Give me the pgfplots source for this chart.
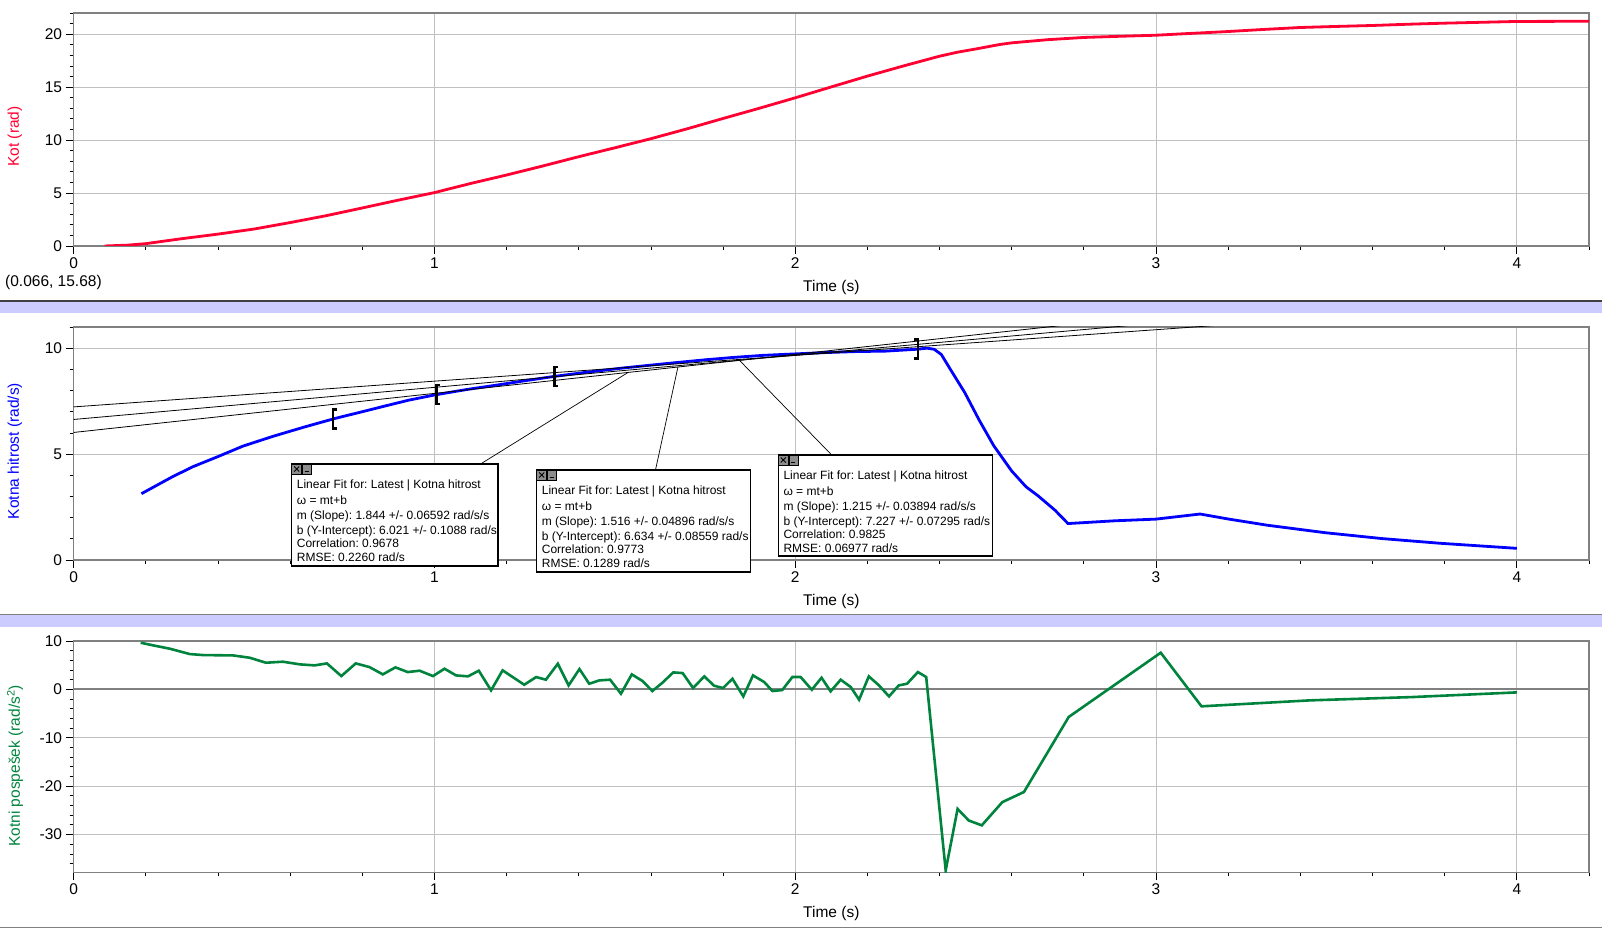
\documentclass[border=0pt]{standalone}
\usepackage{pgfplots}
\pgfplotsset{compat=1.18}
\usepackage{fontspec}
\setmainfont{Liberation Sans}
\frenchspacing
\definecolor{kred}{RGB}{255,0,51}
\definecolor{kblue}{RGB}{0,0,255}
\definecolor{kgreen}{RGB}{0,132,61}
\definecolor{axgray}{RGB}{128,128,128}
\definecolor{gridgray}{RGB}{192,192,192}
\definecolor{sepblue}{RGB}{204,204,255}
\definecolor{icongray}{RGB}{140,140,140}
\newcommand\tickfont{\fontsize{15.5}{17}\selectfont}
\newcommand\labfont{\fontsize{15.5}{17}\selectfont}
\newcommand\fitfont{\fontsize{12}{14}\selectfont}

\pgfdeclareplotmark{lbr}{%
 \pgfpathmoveto{\pgfqpoint{3.5pt}{9.5pt}}%
 \pgfpathlineto{\pgfqpoint{0pt}{9.5pt}}%
 \pgfpathlineto{\pgfqpoint{0pt}{-9.5pt}}%
 \pgfpathlineto{\pgfqpoint{3.5pt}{-9.5pt}}%
 \pgfusepathqstroke}
\pgfdeclareplotmark{rbr}{%
 \pgfpathmoveto{\pgfqpoint{-3.5pt}{9.5pt}}%
 \pgfpathlineto{\pgfqpoint{0pt}{9.5pt}}%
 \pgfpathlineto{\pgfqpoint{0pt}{-9.5pt}}%
 \pgfpathlineto{\pgfqpoint{-3.5pt}{-9.5pt}}%
 \pgfusepathqstroke}

\pgfplotsset{
 panel/.style={
  scale only axis, width=1515.4pt, anchor=south west,
  xmin=0, xmax=4.2,
  axis line style={draw=axgray, line width=1.3pt},
  tick pos=left, tick align=outside,
  major tick length=8pt, minor tick length=4pt,
  every tick/.style={black, line width=0.8pt},
  xtick={0,1,2,3,4}, xticklabels={0,1,2,3,4},
  minor xtick={0,0.2,...,4.21},
  grid=major, major grid style={gridgray, line width=1pt},
  ticklabel style={font=\tickfont},
  xlabel={Time (s)},
  xlabel style={font=\labfont, at={(axis description cs:0.5,0)}, anchor=center, yshift=-41pt},
  ylabel style={font=\labfont, anchor=center},
 }
}

\newcommand\fitbox[8]{%
 \filldraw[fill=white, draw=black, line width=1.5pt] (#1,#2) rectangle ++(#3,#4);
 \filldraw[fill=icongray, draw=black, line width=0.6pt] (#1,#2) rectangle ++(10,10);
 \draw[black, line width=0.9pt] ({#1+2.5},{#2+2.5}) -- ++(5,5) ({#1+7.5},{#2+2.5}) -- ++(-5,5);
 \filldraw[fill=icongray, draw=black, line width=0.6pt] ({#1+10.5},#2) rectangle ++(9.5,10);
 \draw[black, line width=1pt] ({#1+13},{#2+8}) -- ++(4,0);
 \node[anchor=base west, inner sep=0, font=\fitfont] at ({#1+5},{#2+24.8}) {Linear Fit for: Latest | Kotna hitrost};
 \node[anchor=base west, inner sep=0, font=\fitfont] at ({#1+5},{#2+40.8}) {ω = mt+b};
 \node[anchor=base west, inner sep=0, font=\fitfont] at ({#1+5},{#2+56}) {m (Slope): #5};
 \node[anchor=base west, inner sep=0, font=\fitfont] at ({#1+5},{#2+70.1}) {b (Y-Intercept): #6};
 \node[anchor=base west, inner sep=0, font=\fitfont] at ({#1+5},{#2+83.3}) {Correlation: #7};
 \node[anchor=base west, inner sep=0, font=\fitfont] at ({#1+5},{#2+97.3}) {RMSE: #8};
}

\begin{document}
\begin{tikzpicture}
\useasboundingbox (0,0) rectangle (1602pt,928pt);

\begin{scope}[shift={(0,928pt)}, x=1pt, y=-1pt]
 \fill[sepblue] (0,301.9) rectangle (1602,313.3);
 \fill[black!75] (0,299.7) rectangle (1602,301.9);
 \fill[sepblue] (0,615.3) rectangle (1602,626.7);
 \fill[axgray] (0,613.7) rectangle (1602,615.3);
 \fill[axgray] (0,926.6) rectangle (1602,928);
 \node[anchor=west, font=\labfont, inner sep=0] at (5,282) {(0.066, 15.68)};
\end{scope}

% ---------------- top panel: Kot ----------------
\begin{axis}[panel, at={(73.6pt,682pt)}, height=233pt,
  ymin=0, ymax=22, ytick={0,5,10,15,20}, yticklabels={0,5,10,15,20},
  minor ytick={0,1,...,22},
  ylabel={Kot (rad)}, ylabel style={text=kred, at={(axis description cs:-0.0387,0.47)}}]
\addplot[kred, line width=2.8pt] coordinates {
(0.086,0) (0.15,0.08) (0.2,0.22) (0.3,0.69) (0.4,1.12) (0.5,1.6) (0.6,2.21)
(0.7,2.86) (0.8,3.59) (0.9,4.33) (1.0,5.04) (1.1,5.9) (1.2,6.70) (1.3,7.55)
(1.4,8.43) (1.5,9.27) (1.6,10.13) (1.7,11.06) (1.8,12.04) (1.9,13.0) (2.0,13.99)
(2.1,15.02) (2.2,16.04) (2.3,17.0) (2.4,17.92) (2.45,18.3) (2.5,18.6) (2.566,19.02) (2.6,19.18)
(2.7,19.48) (2.8,19.69) (2.9,19.8) (3.0,19.9) (3.1,20.08) (3.2,20.25) (3.3,20.45)
(3.4,20.63) (3.5,20.73) (3.6,20.82) (3.7,20.94) (3.8,21.04) (3.9,21.12) (4.0,21.2) (4.2,21.22)
};
\end{axis}

% ---------------- middle panel: Kotna hitrost ----------------
\begin{axis}[panel, at={(73.6pt,368pt)}, height=233pt,
  ymin=0, ymax=11, ytick={0,5,10}, yticklabels={0,5,10},
  minor ytick={0,1,...,11},
  ylabel={Kotna hitrost (rad/s)}, ylabel style={text=kblue, at={(axis description cs:-0.0387,0.468)}}]
\addplot[kblue, line width=2.8pt] coordinates {
(0.188,3.13) (0.273,3.92) (0.33,4.4) (0.397,4.86) (0.47,5.38) (0.553,5.84) (0.64,6.28)
(0.724,6.68) (0.8,7.0) (0.863,7.27) (0.93,7.55) (1.0,7.79) (1.09,8.05) (1.174,8.26)
(1.25,8.46) (1.329,8.66) (1.42,8.86) (1.515,9.05) (1.6,9.2) (1.671,9.32) (1.75,9.45)
(1.826,9.56) (1.91,9.66) (2.0,9.73) (2.08,9.79) (2.168,9.84) (2.25,9.86) (2.338,9.95)
(2.365,10.0) (2.385,9.95) (2.405,9.7) (2.43,9.0) (2.47,7.9) (2.51,6.6) (2.55,5.4)
(2.6,4.2) (2.64,3.45) (2.673,3.03) (2.72,2.35) (2.756,1.72) (2.885,1.85) (3.0,1.93)
(3.122,2.17) (3.202,1.93) (3.309,1.64) (3.468,1.29) (3.627,1.01) (3.787,0.79) (4.0,0.55)
};
\addplot[black, line width=0.8pt] coordinates {(0,6.021) (3.0,11.553)};
\addplot[black, line width=0.8pt] coordinates {(0,6.634) (3.0,11.182)};
\addplot[black, line width=0.8pt] coordinates {(0,7.227) (3.2,11.115)};
\addplot[only marks, mark=lbr, mark options={black, line width=2.2pt}] coordinates {(0.72,6.66) (1.006,7.8) (1.333,8.68)};
\addplot[only marks, mark=rbr, mark options={black, line width=2.8pt}] coordinates {(2.34,9.95)};
\end{axis}

% ---------------- bottom panel: Kotni pospesek ----------------
\begin{axis}[panel, at={(73.6pt,55.7pt)}, height=231.3pt,
  ymin=-37.8, ymax=10, ytick={-30,-20,-10,0,10}, yticklabels={-30,-20,-10,0,10},
  minor ytick={-36,-34,...,10},
  extra y ticks={0}, extra y tick labels={},
  extra y tick style={grid=major, major grid style={axgray, line width=2.2pt}, major tick length=0pt},
  ylabel={Kotni pospešek (rad/s\textsuperscript{2})}, ylabel style={text=kgreen, at={(axis description cs:-0.0387,0.46)}}]
\addplot[kgreen, line width=2.6pt] coordinates {
(0.186,9.64) (0.221,9.09) (0.267,8.40) (0.322,7.30) (0.359,7.09) (0.442,7.02) (0.488,6.54)
(0.533,5.51) (0.580,5.72) (0.627,5.17) (0.668,4.96) (0.702,5.37) (0.742,2.75) (0.782,5.37)
(0.820,4.61) (0.857,3.10) (0.892,4.55) (0.926,3.58) (0.959,3.86) (0.996,2.75) (1.028,4.27)
(1.060,2.89) (1.093,2.69) (1.123,3.86) (1.157,-0.2) (1.189,3.93) (1.249,0.96) (1.282,2.55)
(1.309,2.0) (1.342,5.30) (1.372,0.83) (1.402,4.20) (1.429,1.17) (1.457,1.86) (1.487,2.0)
(1.517,-0.9) (1.547,3.10) (1.577,1.72) (1.604,-0.34) (1.632,1.38) (1.662,3.51) (1.688,3.37)
(1.717,0.28) (1.748,2.69) (1.775,0.76) (1.800,0.28) (1.826,2.20) (1.856,-1.45) (1.883,2.89)
(1.914,1.52) (1.937,-0.34) (1.964,-0.14) (1.992,2.55) (2.015,2.55) (2.046,-0.07) (2.073,2.41)
(2.098,-0.41) (2.126,2.0) (2.154,0.48) (2.177,-2.13) (2.204,2.69) (2.232,0.83) (2.260,-1.45)
(2.287,0.83) (2.310,1.17) (2.340,3.58) (2.363,2.55) (2.417,-37.4) (2.450,-24.7) (2.481,-27.1)
(2.517,-28.1) (2.574,-23.3) (2.634,-21.2) (2.758,-5.7) (3.013,7.58) (3.126,-3.5) (3.426,-2.27)
(3.709,-1.59) (4.0,-0.62)
};
\end{axis}

% ---------------- fit annotations ----------------
\begin{scope}[shift={(0,928pt)}, x=1pt, y=-1pt]
 \draw[black, line width=0.7pt] (481.7,463.3) -- (628,372.5);
 \draw[black, line width=0.7pt] (655.7,469) -- (678,366.7);
 \draw[black, line width=0.7pt] (831.7,455) -- (739.8,360.7);
 \fitbox{291.7}{464}{206.3}{102}{1.844 +/- 0.06592 rad/s/s}{6.021 +/- 0.1088 rad/s}{0.9678}{0.2260 rad/s}
 \fitbox{536.7}{470}{214}{102}{1.516 +/- 0.04896 rad/s/s}{6.634 +/- 0.08559 rad/s}{0.9773}{0.1289 rad/s}
 \fitbox{778.3}{455}{214}{101}{1.215 +/- 0.03894 rad/s/s}{7.227 +/- 0.07295 rad/s}{0.9825}{0.06977 rad/s}
\end{scope}
\end{tikzpicture}
\end{document}
